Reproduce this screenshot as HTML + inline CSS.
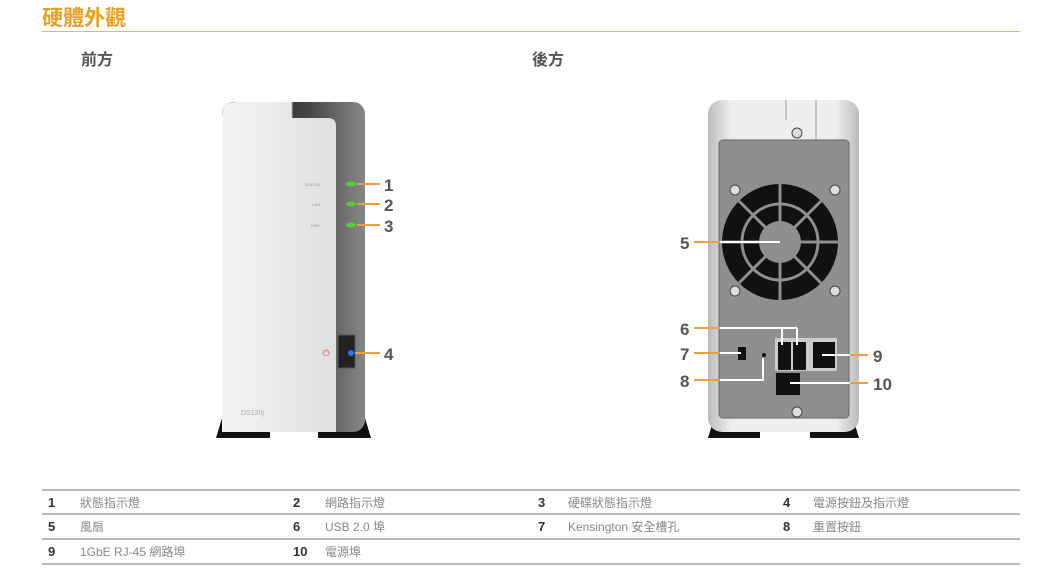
<!DOCTYPE html>
<html><head><meta charset="utf-8"><style>
body{margin:0;width:1040px;height:584px;background:#fff;overflow:hidden;font-family:"Liberation Sans","Noto Sans CJK TC",sans-serif;position:relative}
.t{position:absolute;white-space:nowrap;line-height:16px}
.n{font-weight:bold;color:#333;font-size:13px}
</style></head><body>
<div class="t" style="left:42px;top:6px;font-size:21px;line-height:26px;color:#e8a020;font-weight:bold">硬體外觀</div>
<div style="position:absolute;left:42px;top:31px;width:978px;height:1px;background:#e6b860"></div>
<div class="t" style="left:81px;top:53px;font-size:16px;color:#555;font-weight:bold">前方</div>
<div class="t" style="left:532px;top:53px;font-size:16px;color:#555;font-weight:bold">後方</div>
<svg width="1040" height="584" style="position:absolute;left:0;top:0" font-family="Liberation Sans,sans-serif">
<defs>
<linearGradient id="fr" x1="0" x2="1"><stop offset="0" stop-color="#1a1a1a"/><stop offset=".6" stop-color="#444"/><stop offset="1" stop-color="#888"/></linearGradient>
<linearGradient id="wf" x1="0" x2="1"><stop offset="0" stop-color="#f4f4f4"/><stop offset="1" stop-color="#e0e0e0"/></linearGradient>
<linearGradient id="rb" x1="0" x2="1"><stop offset="0" stop-color="#bbb"/><stop offset=".15" stop-color="#eee"/><stop offset=".85" stop-color="#eee"/><stop offset="1" stop-color="#bbb"/></linearGradient>
</defs>
<!-- front -->
<path d="M216 438 L222 418 L270 418 L270 438Z" fill="#111"/>
<path d="M318 418 L365 418 L371 438 L318 438Z" fill="#111"/>
<rect x="222" y="102" width="143" height="330" rx="12" fill="url(#fr)"/>
<path d="M222 116 Q222 102 236 102 L292 102 L292 118 L328 118 Q336 118 336 126 L336 432 L222 432Z" fill="url(#wf)"/>
<path d="M292 102 L292 118" stroke="#bbb"/>
<rect x="338" y="335" width="17" height="33" fill="#222" stroke="#555"/>
<text x="326" y="356" font-size="9" fill="#e44" text-anchor="middle">⏻</text>
<text x="320" y="186" font-size="4" fill="#999" text-anchor="end">STATUS</text>
<text x="320" y="206" font-size="4" fill="#999" text-anchor="end">LAN</text>
<text x="320" y="227" font-size="4" fill="#999" text-anchor="end">DISK</text>
<text x="241" y="415" font-size="7" fill="#aaa">DS120j</text>
<g fill="#5c3"><ellipse cx="351" cy="184" rx="5" ry="2.5"/><ellipse cx="351" cy="204" rx="5" ry="2.5"/><ellipse cx="351" cy="225" rx="5" ry="2.5"/></g>
<circle cx="351" cy="353" r="3" fill="#27f"/>
<g stroke="#e8a040" stroke-width="2"><line x1="357" y1="184" x2="380" y2="184"/><line x1="357" y1="204" x2="380" y2="204"/><line x1="357" y1="225" x2="380" y2="225"/><line x1="355" y1="353" x2="380" y2="353"/></g>
<g font-size="17" font-weight="bold" fill="#555"><text x="384" y="191">1</text><text x="384" y="211">2</text><text x="384" y="232">3</text><text x="384" y="360">4</text></g>
<!-- rear -->
<path d="M708 438 L714 418 L760 418 L760 438Z" fill="#111"/>
<path d="M810 418 L853 418 L859 438 L810 438Z" fill="#111"/>
<rect x="708" y="100" width="151" height="332" rx="14" fill="url(#rb)"/>
<line x1="786" y1="100" x2="786" y2="120" stroke="#999"/><line x1="816" y1="100" x2="816" y2="140" stroke="#999"/>
<rect x="719" y="140" width="130" height="278" rx="4" fill="#8f8f8f" stroke="#666"/>
<circle cx="780" cy="242" r="58" fill="#111"/>
<g stroke="#8f8f8f" stroke-width="3" fill="none"><circle cx="780" cy="242" r="38"/>
<line x1="780" y1="184" x2="780" y2="300"/><line x1="722" y1="242" x2="838" y2="242"/><line x1="739" y1="201" x2="821" y2="283"/><line x1="821" y1="201" x2="739" y2="283"/></g>
<circle cx="780" cy="242" r="21" fill="#8f8f8f"/>
<g fill="#ddd" stroke="#444"><circle cx="735" cy="190" r="5"/><circle cx="835" cy="190" r="5"/><circle cx="735" cy="291" r="5"/><circle cx="835" cy="291" r="5"/><circle cx="797" cy="133" r="5"/><circle cx="797" cy="412" r="5"/></g>
<rect x="775" y="338" width="62" height="33" fill="#ccc"/>
<rect x="778" y="342" width="13" height="28" fill="#111"/><rect x="793" y="342" width="13" height="28" fill="#111"/>
<rect x="813" y="342" width="22" height="26" fill="#111"/>
<rect x="776" y="373" width="24" height="22" fill="#111"/>
<rect x="738" y="347" width="8" height="13" fill="#111"/>
<circle cx="764" cy="355" r="2" fill="#111"/>
<g stroke="#e8a040" stroke-width="2" fill="none"><line x1="694" y1="242" x2="720" y2="242"/><line x1="694" y1="328" x2="720" y2="328"/><line x1="694" y1="353" x2="720" y2="353"/><line x1="694" y1="380" x2="720" y2="380"/><line x1="850" y1="355" x2="868" y2="355"/><line x1="850" y1="383" x2="868" y2="383"/></g>
<g stroke="#fff" stroke-width="2" fill="none"><line x1="720" y1="242" x2="780" y2="242"/><path d="M720 328 L797 328 M782 328 L782 345 M797 328 L797 345"/><line x1="720" y1="353" x2="741" y2="353"/><path d="M720 380 L763 380 L763 358"/><line x1="822" y1="355" x2="850" y2="355"/><line x1="790" y1="383" x2="850" y2="383"/></g>
<g font-size="17" font-weight="bold" fill="#555"><text x="680" y="249">5</text><text x="680" y="335">6</text><text x="680" y="360">7</text><text x="680" y="387">8</text><text x="873" y="362">9</text><text x="873" y="390">10</text></g>
<g stroke="#bbb" stroke-width="2"><line x1="42" y1="490" x2="1020" y2="490"/><line x1="42" y1="514" x2="1020" y2="514"/><line x1="42" y1="539" x2="1020" y2="539"/><line x1="42" y1="564" x2="1020" y2="564"/></g>
</svg>
<div style="font-size:12px;color:#888">
<div class="t n" style="left:48px;top:495px">1</div><div class="t" style="left:80px;top:495px">狀態指示燈</div>
<div class="t n" style="left:293px;top:495px">2</div><div class="t" style="left:325px;top:495px">網路指示燈</div>
<div class="t n" style="left:538px;top:495px">3</div><div class="t" style="left:568px;top:495px">硬碟狀態指示燈</div>
<div class="t n" style="left:783px;top:495px">4</div><div class="t" style="left:813px;top:495px">電源按鈕及指示燈</div>
<div class="t n" style="left:48px;top:519px">5</div><div class="t" style="left:80px;top:519px">風扇</div>
<div class="t n" style="left:293px;top:519px">6</div><div class="t" style="left:325px;top:519px">USB 2.0 埠</div>
<div class="t n" style="left:538px;top:519px">7</div><div class="t" style="left:568px;top:519px">Kensington 安全槽孔</div>
<div class="t n" style="left:783px;top:519px">8</div><div class="t" style="left:813px;top:519px">重置按鈕</div>
<div class="t n" style="left:48px;top:544px">9</div><div class="t" style="left:80px;top:544px">1GbE RJ-45 網路埠</div>
<div class="t n" style="left:293px;top:544px">10</div><div class="t" style="left:325px;top:544px">電源埠</div>
</div>
</body></html>
